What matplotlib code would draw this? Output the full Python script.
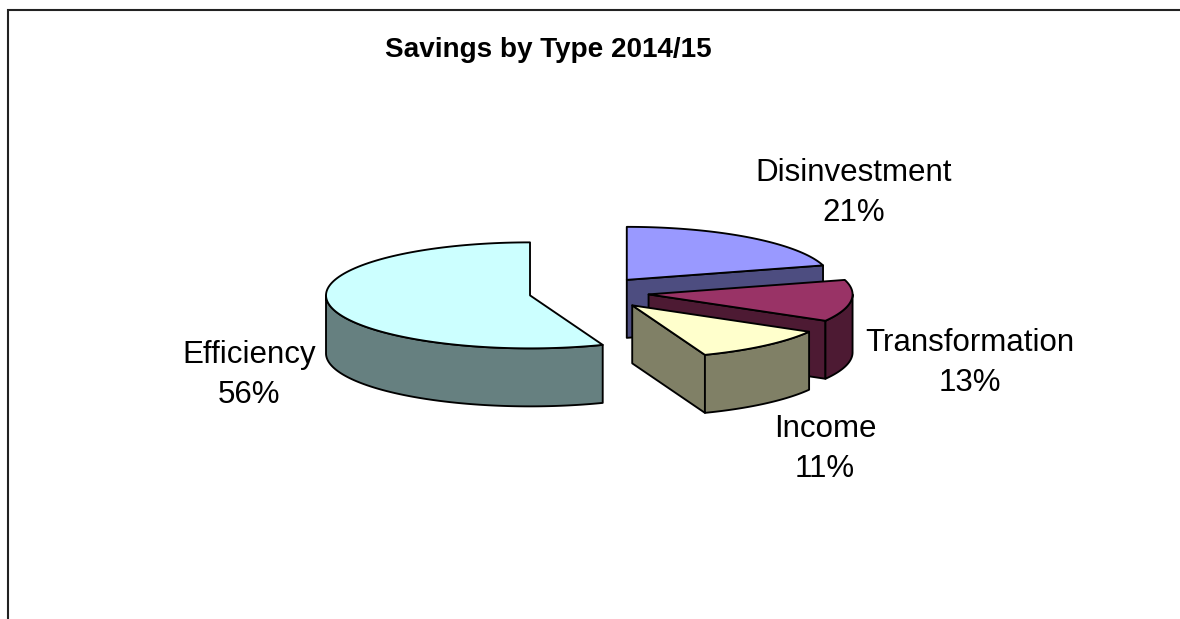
import numpy as np
import matplotlib.pyplot as plt
from matplotlib.patches import Polygon

plt.rcParams['font.family'] = ['Liberation Sans', 'DejaVu Sans']

# Data, clockwise from 12 o'clock
categories = ['Disinvestment', 'Transformation', 'Income', 'Efficiency']
shares = [20.6, 12.7, 10.9, 55.8]
pct_labels = ['21%', '13%', '11%', '56%']
top_colors = ['#9999FF', '#993366', '#FFFFCC', '#CCFFFF']
side_colors = ['#4D4D80', '#4D1A33', '#808066', '#668080']

# Pie geometry, in pixels of the picture
CX, CY = 590, 292.5
RX, RY = 204, 53
DEPTH = 58
explode = [61, 59, 65, 61]
LW = 1.35

label_pos = [(854, 193), (970, 363), (825, 449), (249, 375)]

fig = plt.figure(figsize=(11.8, 6.19), dpi=100)
ax = fig.add_axes([0, 0, 1, 1])
ax.set_xlim(0, 1180)
ax.set_ylim(619, 0)
ax.axis('off')

# chart frame, only left and top show
ax.plot([8, 8, 1180], [619, 10, 10], color='#222222', lw=1.5, solid_joinstyle='miter')


def rim(cx, cy, a0, a1, dz=0):
    # angles in degrees clockwise from 12 o'clock
    t = np.radians(np.linspace(a0, a1, 120))
    return np.column_stack([cx + RX * np.sin(t), cy - RY * np.cos(t) + dz])


def poly(pts, color, z):
    ax.add_patch(Polygon(pts, closed=True, fc=color, ec='black', lw=LW,
                         joinstyle='round', zorder=z))


bounds = np.concatenate([[0], np.cumsum(shares)]) / np.sum(shares) * 360

# back to front: Efficiency and Disinvestment sit behind the others
for i, name in enumerate(categories):
    a0, a1 = bounds[i], bounds[i + 1]
    mid = np.radians((a0 + a1) / 2)
    cx = CX + explode[i] * np.sin(mid)
    cy = CY - explode[i] * RY / RX * np.cos(mid)
    z = 2 + i * 3 if i < 3 else 1

    # cut faces looking towards the viewer
    if a1 < 180:
        end = rim(cx, cy, a1, a1, 0)[0]
        poly([(cx, cy), end, end + [0, DEPTH], (cx, cy + DEPTH)], side_colors[i], z)
    if a0 > 180:
        start = rim(cx, cy, a0, a0, 0)[0]
        poly([(cx, cy), start, start + [0, DEPTH], (cx, cy + DEPTH)], side_colors[i], z)

    # outer wall, only the front half of the rim
    w0, w1 = max(a0, 90), min(a1, 270)
    if w1 > w0:
        upper = rim(cx, cy, w0, w1)
        lower = rim(cx, cy, w0, w1, DEPTH)
        poly(np.vstack([upper, lower[::-1]]), side_colors[i], z + 1)

    # top
    poly(np.vstack([[(cx, cy)], rim(cx, cy, a0, a1)]), top_colors[i], z + 2)

for name, pct, (x, y) in zip(categories, pct_labels, label_pos):
    ax.text(x, y, name + '\n' + pct, fontsize=22.5, ha='center', va='center',
            linespacing=1.4, color='black', zorder=30)

ax.text(548.5, 50, 'Savings by Type 2014/15', fontsize=20.1, fontweight='bold',
        ha='center', va='center', color='black', zorder=30)

fig.savefig('out.png', dpi=100, facecolor='white')
